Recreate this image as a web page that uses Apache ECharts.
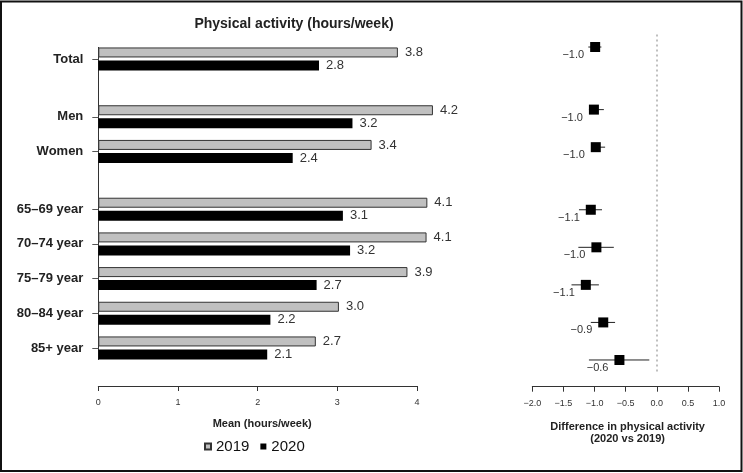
<!DOCTYPE html>
<html>
<head>
<meta charset="utf-8">
<script src="https://cdn.jsdelivr.net/npm/echarts/dist/echarts.min.js"></script>
<style>html,body{margin:0;padding:0;background:#fff;}#c{width:743px;height:473px;}</style>
</head>
<body>
<div id="c"></div>
<script>
// ---- data ----
const categories = ['Total', 'Men', 'Women', '65–69 year', '70–74 year', '75–79 year', '80–84 year', '85+ year'];
const mean2019 = [3.76, 4.20, 3.43, 4.13, 4.12, 3.88, 3.02, 2.73];
const mean2020 = [2.77, 3.19, 2.44, 3.07, 3.16, 2.74, 2.16, 2.12];
const diff = [-0.99, -1.01, -0.98, -1.06, -0.97, -1.14, -0.86, -0.60];
const ciLow = [-1.10, -1.09, -1.05, -1.25, -1.26, -1.37, -1.06, -1.09];
const ciHigh = [-0.89, -0.85, -0.83, -0.88, -0.69, -0.93, -0.67, -0.12];
const seriesNames = ['2019', '2020'];

// ---- layout (row slots on a finer category grid) ----
const rowSlot = [1, 6, 9, 14, 17, 20, 23, 26];
const slotCount = 28;
const yCats = [];
for (let i = 0; i < slotCount; i++) yCats.push('_' + i);
rowSlot.forEach((s, i) => { yCats[s] = categories[i]; });
const isReal = (v) => !String(v).startsWith('_');
const FF = "'Liberation Sans', Arial, Helvetica, sans-serif";
const minus = (s) => s.replace('-', '\u2212');

const chart = echarts.init(document.getElementById('c'), null, { renderer: 'canvas' });
chart.setOption({
  animation: false,
  backgroundColor: '#fff',
  textStyle: { fontFamily: FF },
  title: {
    text: 'Physical activity (hours/week)',
    left: 289, top: 12, textAlign: 'center',
    textStyle: { fontSize: 14, fontWeight: 'bold', color: '#222', fontFamily: FF }
  },
  legend: {
    data: seriesNames,
    left: 199, top: 434,
    icon: 'rect', itemWidth: 6, itemHeight: 6, itemGap: 11,
    textStyle: { fontSize: 15, color: '#111', fontFamily: FF }
  },
  graphic: [{
    type: 'rect', shape: { x: 1, y: 1.5, width: 740.5, height: 469.5 },
    style: { fill: 'none', stroke: '#111', lineWidth: 2 }, silent: true
  }],
  grid: [
    { left: 98.3, width: 318.7, top: 47.4, height: 312.1 },
    { left: 532.3, width: 186.7, top: 34.5, height: 338 }
  ],
  xAxis: [
    {
      gridIndex: 0, type: 'value', min: 0, max: 4, interval: 1, offset: 26.5,
      axisLine: { show: true, lineStyle: { color: '#333', width: 1 } },
      axisTick: { show: true, length: 5, lineStyle: { color: '#333' } },
      axisLabel: { fontSize: 9, color: '#333', margin: 12, fontFamily: FF },
      splitLine: { show: false },
      name: 'Mean (hours/week)', nameLocation: 'middle', nameGap: 32,
      nameTextStyle: { fontSize: 11, fontWeight: 'bold', color: '#222', fontFamily: FF, padding: [0, 0, 0, 9] }
    },
    {
      gridIndex: 1, type: 'value', min: -2, max: 1, interval: 0.5, offset: 14.2,
      axisLine: { show: true, lineStyle: { color: '#333', width: 1 } },
      axisTick: { show: true, length: 5, lineStyle: { color: '#333' } },
      axisLabel: { fontSize: 9, color: '#333', margin: 12, fontFamily: FF, formatter: (v) => minus(v.toFixed(1)) },
      splitLine: { show: false },
      name: 'Difference in physical activity\n(2020 vs 2019)', nameLocation: 'middle', nameGap: 34,
      nameTextStyle: { fontSize: 11, fontWeight: 'bold', color: '#222', lineHeight: 12, fontFamily: FF, padding: [0, 0, 0, 4] }
    }
  ],
  yAxis: [
    {
      gridIndex: 0, type: 'category', data: yCats, inverse: true, boundaryGap: false,
      axisLine: { show: true, lineStyle: { color: '#333', width: 1 } },
      axisTick: { show: true, length: 6, interval: (i, v) => isReal(v), lineStyle: { color: '#555' } },
      axisLabel: {
        interval: (i, v) => isReal(v), formatter: (v) => isReal(v) ? v : '',
        fontSize: 13, fontWeight: 'bold', color: '#222', margin: 15, fontFamily: FF
      },
      splitLine: { show: false }
    },
    {
      gridIndex: 1, type: 'category', data: yCats, inverse: true, boundaryGap: false,
      show: false
    }
  ],
  series: [
    {
      name: seriesNames[0], type: 'bar', xAxisIndex: 0, yAxisIndex: 0,
      data: categories.map((c, i) => [mean2019[i], c]),
      barWidth: 10, barGap: '30%', clip: false,
      itemStyle: { color: '#c0c0c0', borderColor: '#333', borderWidth: 1 },
      label: {
        show: true, position: 'right', distance: 7, fontSize: 13, color: '#333', fontFamily: FF,
        formatter: (p) => p.value[0].toFixed(1)
      }
    },
    {
      name: seriesNames[1], type: 'bar', xAxisIndex: 0, yAxisIndex: 0,
      data: categories.map((c, i) => [mean2020[i], c]),
      barWidth: 10, barGap: '30%', clip: false,
      itemStyle: { color: '#000' },
      label: {
        show: true, position: 'right', distance: 7, fontSize: 13, color: '#333', fontFamily: FF,
        formatter: (p) => p.value[0].toFixed(1)
      }
    },
    {
      name: 'ci', type: 'custom', xAxisIndex: 1, yAxisIndex: 1,
      data: categories.map((c, i) => [ciLow[i], ciHigh[i], c]),
      encode: { x: [0, 1], y: 2 },
      renderItem: (params, api) => {
        const y = api.value(2);
        const p1 = api.coord([api.value(0), y]);
        const p2 = api.coord([api.value(1), y]);
        return { type: 'line', shape: { x1: p1[0], y1: p1[1], x2: p2[0], y2: p2[1] },
                 style: { stroke: '#222', lineWidth: 1 } };
      },
      z: 3
    },
    {
      name: 'diff', type: 'scatter', xAxisIndex: 1, yAxisIndex: 1,
      data: categories.map((c, i) => [diff[i], c]),
      symbol: 'rect', symbolSize: 10,
      itemStyle: { color: '#000', opacity: 1 },
      label: {
        show: true, position: 'left', distance: 2, offset: [-4, 8],
        fontSize: 11, color: '#333', fontFamily: FF,
        formatter: (p) => minus(p.value[0].toFixed(1))
      },
      markLine: {
        silent: true, symbol: 'none', label: { show: false },
        lineStyle: { color: '#aaa', type: [2, 3], width: 1.5 },
        data: [{ xAxis: 0 }]
      },
      z: 4
    }
  ]
});
</script>
</body>
</html>
